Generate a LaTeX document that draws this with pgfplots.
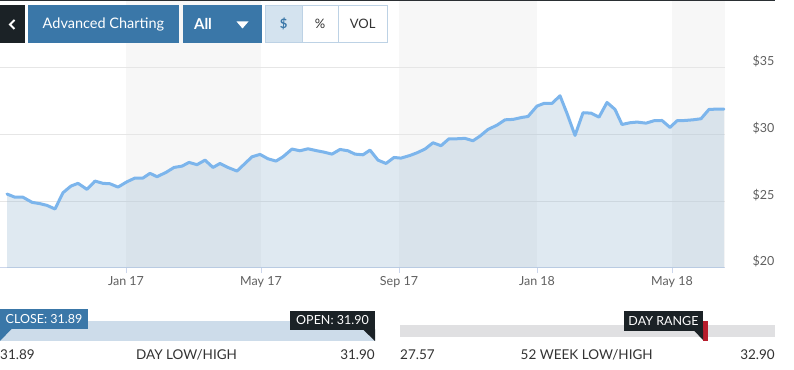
\documentclass[border=0pt]{standalone}
\usepackage{fontspec}
\setmainfont{Lato}
\usepackage{pgfplots}
\usepackage{pgfplotstable}
\pgfplotsset{compat=1.18}
\definecolor{linecol}{HTML}{7CB5EC}
\definecolor{areafill}{HTML}{83ABCB}
\definecolor{bandgray}{HTML}{F7F7F7}
\definecolor{gridcol}{HTML}{E6E6E6}
\definecolor{axisline}{HTML}{CCD6EB}
\definecolor{labcol}{HTML}{606060}
\definecolor{btnblue}{HTML}{3A77A8}
\definecolor{btndark}{HTML}{1B2226}
\definecolor{btnlight}{HTML}{D4E3EF}
\definecolor{btnborder}{HTML}{BDD2E5}
\definecolor{barblue}{HTML}{CDDCEA}
\definecolor{bargray}{HTML}{E0E0E2}
\definecolor{markred}{HTML}{B71C2C}
\definecolor{txtdark}{HTML}{333333}
\definecolor{topline}{HTML}{2A2F33}
\pgfplotstableread{
x y
7 25.54
15 25.30
23 25.30
32 24.92
40 24.82
47 24.69
55 24.42
63 25.64
71 26.14
78 26.34
87 25.89
95 26.51
103 26.34
110 26.31
118 26.06
127 26.46
135 26.74
143 26.74
150 27.09
157 26.84
166 27.16
174 27.53
182 27.63
189 27.91
197 27.74
205 28.08
213 27.53
220 27.83
228 27.53
237 27.26
245 27.83
252 28.33
260 28.51
268 28.18
276 28.01
283 28.33
292 28.91
300 28.78
308 28.93
317 28.78
324 28.68
332 28.53
340 28.88
348 28.78
355 28.53
363 28.48
370 28.83
378 28.08
386 27.83
394 28.28
401 28.23
410 28.43
417 28.63
425 28.91
433 29.38
441 29.16
449 29.68
457 29.68
465 29.71
473 29.53
480 29.88
488 30.38
497 30.70
505 31.10
513 31.13
522 31.28
528 31.35
537 32.13
544 32.33
552 32.33
560 32.90
567 31.58
575 29.93
583 31.63
591 31.60
599 31.30
607 32.40
615 31.88
622 30.75
630 30.88
637 30.93
646 30.85
654 31.03
662 31.05
670 30.53
677 31.03
685 31.05
693 31.10
701 31.18
709 31.88
717 31.90
724 31.90
}\pricedata
\begin{document}
\begin{tikzpicture}[x=1pt,y=1pt]
% canvas
\fill[white] (0,0) rectangle (794,369);
% alternating bands
\fill[bandgray] (126,101) rectangle (261,368);
\fill[bandgray] (399,101) rectangle (537,368);
\fill[bandgray] (672,101) rectangle (725,368);
\begin{axis}[
  at={(0pt,101pt)}, anchor=south west,
  scale only axis, width=725pt, height=267pt,
  xmin=0, xmax=725, ymin=20, ymax=40,
  axis x line*=bottom, axis y line*=right,
  x axis line style={draw=axisline, line width=1pt, -},
  y axis line style={draw=none},
  xtick={126,261,399,537,672},
  xticklabels={Jan 17,May 17,Sep 17,Jan 18,May 18},
  ytick={20,25,30,35},
  yticklabels={\$20,\$25,\$30,\$35},
  ymajorgrids, major grid style={draw=gridcol, line width=1pt},
  xtick style={draw=axisline, line width=1pt},
  ytick style={draw=none},
  major tick length=5pt, tick align=outside,
  xticklabel style={font=\fontsize{12.5}{14}\selectfont, text=labcol},
  yticklabel style={font=\fontsize{12.5}{14}\selectfont, text=labcol, anchor=west, xshift=19pt, yshift=6.5pt},
]
\addplot[draw=none, fill=areafill, fill opacity=0.25] table[x=x,y=y] {\pricedata} \closedcycle;
\addplot[draw=linecol, line width=3pt, line join=round, line cap=round] table[x=x,y=y] {\pricedata};
\end{axis}
% top dark line
\fill[topline] (0,367.7) rectangle (775,369);
% buttons
\fill[btndark] (0,326) rectangle (25,364);
\draw[white, line width=2pt] (14.5,349) -- (10,344.5) -- (14.5,340);
\fill[btnblue] (28,326) rectangle (179,364);
\node[text=white, font=\fontsize{14.5}{17}\selectfont] at (103.5,345) {Advanced Charting};
\fill[btnblue] (183,326) rectangle (262,364);
\node[text=white, font=\fontsize{15}{17}\selectfont\bfseries] at (203,345) {All};
\fill[white] (236.5,347.5) -- (248.5,347.5) -- (242.5,340.5) -- cycle;
\filldraw[fill=btnlight, draw=btnborder, line width=1pt] (265.5,326.5) rectangle (302,363.5);
\filldraw[fill=white, draw=btnborder, line width=1pt] (302,326.5) rectangle (338,363.5);
\filldraw[fill=white, draw=btnborder, line width=1pt] (338,326.5) rectangle (387.5,363.5);
\node[text=btnblue, font=\fontsize{13}{15}\selectfont\bfseries] at (283.7,345) {\$};
\node[text=txtdark, font=\fontsize{13}{15}\selectfont] at (320,345) {\%};
\node[text=txtdark, font=\fontsize{13}{15}\selectfont] at (362.7,345) {VOL};
% day low/high bar
\fill[barblue] (0,28) rectangle (375,48);
\fill[btnblue] (0,40) rectangle (88,60);
\fill[btnblue] (0,40.5) -- (12,40.5) -- (0,28) -- cycle;
\node[text=white, font=\fontsize{12.5}{14}\selectfont] at (44,50) {CLOSE: 31.89};
\fill[btndark] (290,39) rectangle (375,58);
\fill[btndark] (375,39.5) -- (363,39.5) -- (375,28) -- cycle;
\node[text=white, font=\fontsize{12.5}{14}\selectfont] at (332.5,48.5) {OPEN: 31.90};
\node[text=txtdark, font=\fontsize{13.5}{15}\selectfont, anchor=west, inner sep=0pt] at (0,14) {31.89};
\node[text=txtdark, font=\fontsize{13.5}{15}\selectfont] at (186.5,14) {DAY LOW/HIGH};
\node[text=txtdark, font=\fontsize{13.5}{15}\selectfont, anchor=east, inner sep=0pt] at (375,14) {31.90};
% 52 week bar
\fill[bargray] (400,32) rectangle (775,44);
\fill[markred] (703,28) rectangle (707.5,48);
\fill[btndark] (624,38) rectangle (703,58);
\fill[btndark] (694,38.5) -- (703,38.5) -- (703,29) -- cycle;
\node[text=white, font=\fontsize{12.5}{14}\selectfont] at (663.5,48) {DAY RANGE};
\node[text=txtdark, font=\fontsize{13.5}{15}\selectfont, anchor=west, inner sep=0pt] at (400,14) {27.57};
\node[text=txtdark, font=\fontsize{13.5}{15}\selectfont] at (586.7,14) {52 WEEK LOW/HIGH};
\node[text=txtdark, font=\fontsize{13.5}{15}\selectfont, anchor=east, inner sep=0pt] at (775,14) {32.90};
\pgfresetboundingbox
\path[use as bounding box] (0,0) rectangle (794,369);
\end{tikzpicture}
\end{document}
